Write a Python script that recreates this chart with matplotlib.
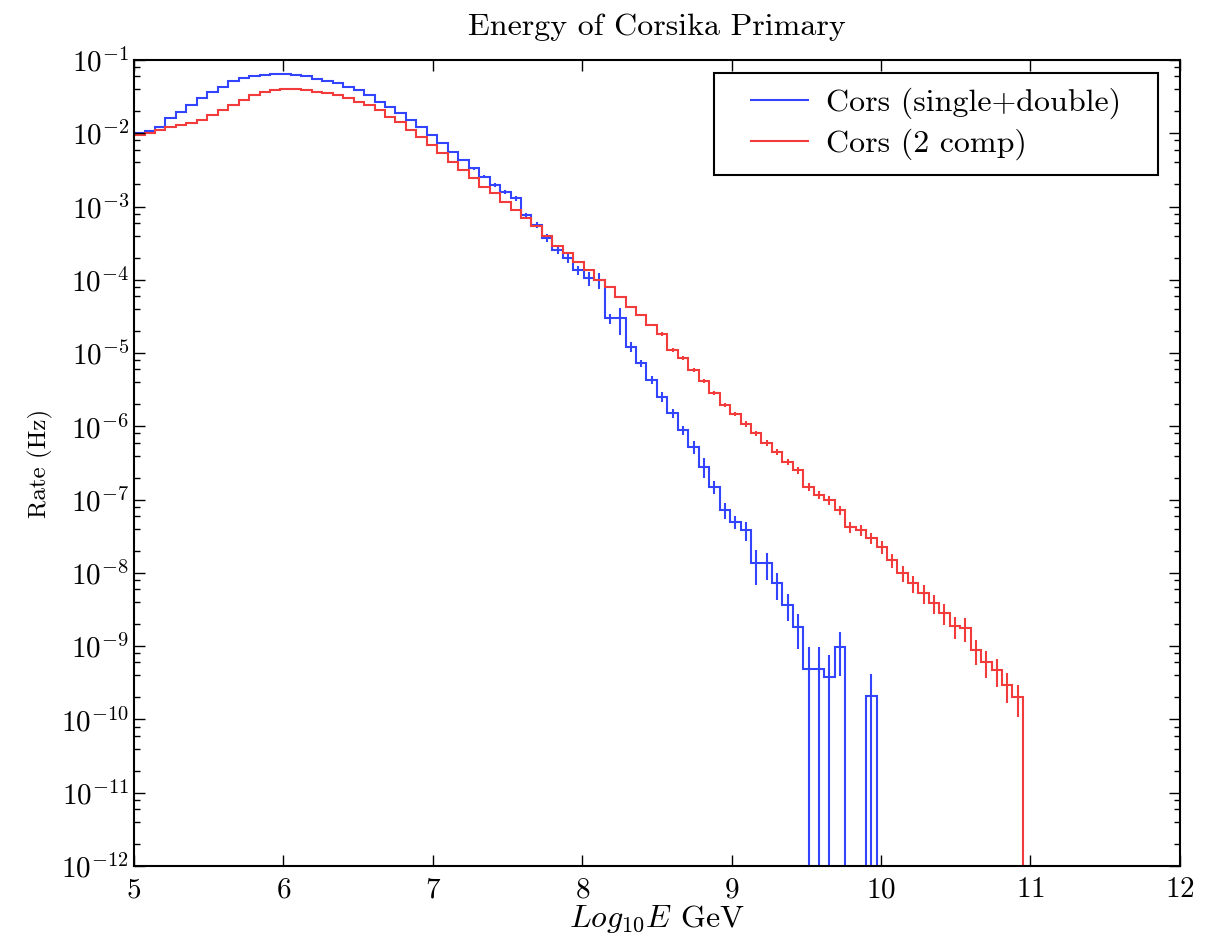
import numpy as np
import matplotlib
matplotlib.use('Agg')
import matplotlib.pyplot as plt
from matplotlib.ticker import LogLocator, NullLocator, NullFormatter
from matplotlib.patches import Rectangle

plt.rcParams['font.family'] = 'serif'
plt.rcParams['font.serif'] = ['cmr10']
plt.rcParams['mathtext.fontset'] = 'cm'
plt.rcParams['axes.formatter.use_mathtext'] = True

# 100 bins of log10(E/GeV) from 5 to 12
edges = np.linspace(5.0, 12.0, 101)

# rate per bin (Hz)
rate_single_double = [
    1.01e-2, 1.07e-2, 1.23e-2, 1.60e-2, 1.97e-2, 2.43e-2, 3.00e-2, 3.69e-2, 4.32e-2, 5.20e-2,
    5.70e-2, 6.00e-2, 6.30e-2, 6.50e-2, 6.50e-2, 6.30e-2, 6.00e-2, 5.50e-2, 5.20e-2, 4.81e-2,
    4.32e-2, 3.90e-2, 3.33e-2, 2.70e-2, 2.31e-2, 1.87e-2, 1.52e-2, 1.23e-2, 9.46e-3, 7.29e-3,
    5.60e-3, 4.31e-3, 3.32e-3, 2.55e-3, 1.97e-3, 1.60e-3, 1.30e-3, 7.67e-4, 5.60e-4, 3.72e-4,
    2.55e-4, 1.99e-4, 1.36e-4, 1.06e-4, 9.94e-5, 2.98e-5, 2.98e-5, 1.22e-5, 7.25e-6, 4.29e-6,
    2.54e-6, 1.51e-6, 8.91e-7, 5.27e-7, 2.81e-7, 1.50e-7, 7.21e-8, 5.00e-8, 3.85e-8, 1.35e-8,
    1.35e-8, 7.21e-9, 3.65e-9, 1.85e-9, 4.88e-10, 4.88e-10, 3.79e-10, 9.74e-10, 0.0, 0.0,
    2.11e-10, 0.0,
]
relerr_single_double = [
    0.01, 0.01, 0.01, 0.01, 0.01, 0.01, 0.01, 0.01, 0.01, 0.01,
    0.01, 0.01, 0.01, 0.01, 0.01, 0.01, 0.01, 0.01, 0.01, 0.01,
    0.01, 0.01, 0.01, 0.01, 0.01, 0.02, 0.02, 0.02, 0.02, 0.02,
    0.03, 0.03, 0.04, 0.04, 0.05, 0.06, 0.08, 0.08, 0.10, 0.12,
    0.12, 0.15, 0.15, 0.22, 0.25, 0.15, 0.40, 0.15, 0.12, 0.12,
    0.15, 0.15, 0.15, 0.20, 0.30, 0.20, 0.25, 0.20, 0.30, 0.50,
    0.40, 0.40, 0.40, 0.50, 1.00, 1.00, 1.00, 0.60, 0.0, 0.0,
    1.00, 0.0,
]

rate_2comp = [
    9.46e-3, 1.00e-2, 1.11e-2, 1.23e-2, 1.30e-2, 1.37e-2, 1.52e-2, 1.77e-2, 2.08e-2, 2.43e-2,
    2.84e-2, 3.33e-2, 3.60e-2, 3.90e-2, 4.05e-2, 4.05e-2, 3.95e-2, 3.69e-2, 3.55e-2, 3.33e-2,
    3.00e-2, 2.70e-2, 2.43e-2, 2.08e-2, 1.68e-2, 1.44e-2, 1.11e-2, 8.97e-3, 6.92e-3, 5.33e-3,
    4.10e-3, 3.16e-3, 2.43e-3, 1.87e-3, 1.52e-3, 1.17e-3, 8.97e-4, 6.98e-4, 5.42e-4, 3.96e-4,
    2.89e-4, 2.32e-4, 1.75e-4, 1.36e-4, 9.94e-5, 7.97e-5, 5.82e-5, 4.25e-5, 3.31e-5, 2.42e-5,
    1.82e-5, 1.10e-5, 8.57e-6, 5.88e-6, 4.16e-6, 2.85e-6, 1.95e-6, 1.47e-6, 1.08e-6, 8.11e-7,
    5.93e-7, 4.47e-7, 3.26e-7, 2.54e-7, 1.49e-7, 1.16e-7, 9.89e-8, 7.21e-8, 4.23e-8, 3.85e-8,
    2.99e-8, 2.25e-8, 1.50e-8, 9.96e-9, 7.28e-9, 5.31e-9, 3.88e-9, 2.83e-9, 1.88e-9, 1.77e-9,
    8.86e-10, 6.08e-10, 4.73e-10, 2.95e-10, 2.02e-10, 0.0,
]
relerr_2comp = [
    0.01, 0.01, 0.01, 0.01, 0.01, 0.01, 0.01, 0.01, 0.01, 0.01,
    0.01, 0.01, 0.01, 0.01, 0.01, 0.01, 0.01, 0.01, 0.01, 0.01,
    0.01, 0.01, 0.01, 0.01, 0.01, 0.01, 0.01, 0.01, 0.01, 0.01,
    0.01, 0.01, 0.01, 0.02, 0.02, 0.02, 0.02, 0.02, 0.02, 0.02,
    0.03, 0.03, 0.03, 0.03, 0.03, 0.04, 0.04, 0.04, 0.04, 0.04,
    0.05, 0.05, 0.05, 0.06, 0.06, 0.06, 0.07, 0.07, 0.08, 0.08,
    0.09, 0.10, 0.10, 0.11, 0.12, 0.13, 0.14, 0.15, 0.16, 0.17,
    0.18, 0.20, 0.22, 0.24, 0.26, 0.28, 0.30, 0.32, 0.34, 0.36,
    0.38, 0.40, 0.42, 0.44, 0.46, 0.0,
]

labels = ['Cors (single+double)', 'Cors (2 comp)']
colors = ['#3344ff', '#f23b3b']


def draw_hist(ax, values, relerr, color, label):
    vals = np.array(values)
    rel = np.array(relerr)
    n = len(vals)
    e = edges[:n + 1]
    ax.stairs(vals, e, baseline=None, color=color, lw=1.5, label=label)
    centres = 0.5 * (e[:-1] + e[1:])
    ok = vals > 0
    err = vals * rel
    ax.errorbar(centres[ok], vals[ok], yerr=err[ok], fmt='none',
                ecolor=color, elinewidth=1.5, capsize=0)


fig = plt.figure(figsize=(12.12, 9.40), dpi=100)
ax = fig.add_axes([0.1106, 0.0787, 0.8628, 0.8575])

draw_hist(ax, rate_single_double, relerr_single_double, colors[0], labels[0])
draw_hist(ax, rate_2comp, relerr_2comp, colors[1], labels[1])

ax.set_yscale('log')
ax.set_xlim(5, 12)
ax.set_ylim(1e-12, 1e-1)
ax.yaxis.set_major_locator(LogLocator(base=10, numticks=20))
ax.yaxis.set_minor_locator(LogLocator(base=10, subs=(2, 4, 6, 8), numticks=100))
ax.yaxis.set_minor_formatter(NullFormatter())
ax.xaxis.set_minor_locator(NullLocator())
ax.tick_params(which='both', direction='in', top=True, right=True, labelsize=21)
ax.tick_params(which='major', length=8, width=1)
ax.tick_params(which='minor', length=4, width=1)
ax.tick_params(axis='x', pad=8)
for s in ax.spines.values():
    s.set_linewidth(1.5)

ax.set_title('Energy of Corsika Primary', fontsize=23, pad=18)
ax.set_xlabel(r'$Log_{10}E$ GeV', fontsize=23, labelpad=0)
ax.set_ylabel('Rate (Hz)', fontsize=18, labelpad=6)

# legend box drawn as a plain rectangle, entries centred inside
ax.add_patch(Rectangle((0.5545, 0.8573), 0.4245, 0.1266, transform=ax.transAxes,
                       fill=False, edgecolor='black', lw=1.5, zorder=5))
leg = ax.legend(loc='center', bbox_to_anchor=(0.7667, 0.9206), frameon=False,
                fontsize=23, handlelength=1.8, handletextpad=0.55,
                borderpad=0.0, labelspacing=0.3)

fig.savefig('out.png', dpi=100)
